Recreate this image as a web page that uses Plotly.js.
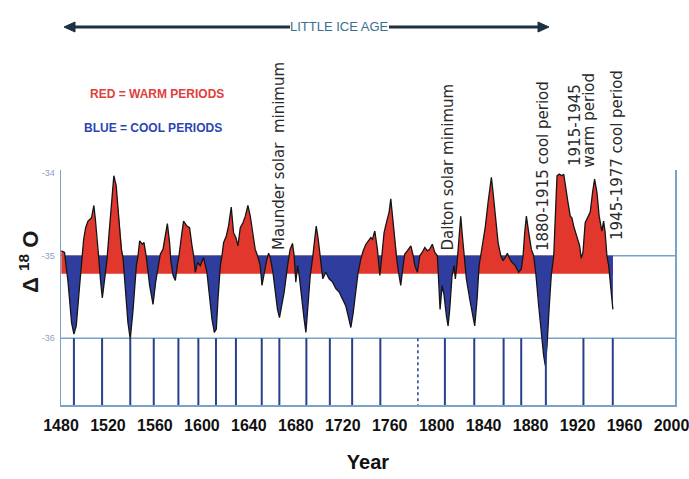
<!DOCTYPE html>
<html><head><meta charset="utf-8">
<script src="https://cdn.plot.ly/plotly-3.0.1.min.js"></script>
<style>html,body{margin:0;padding:0;background:#fff}#chart{width:689px;height:479px}</style>
</head><body><div id="chart"></div>
<script>
// ---- data ----
const years = [
 1480.3,1483,1486,1489,1491,1493,1495.4,1498,1499.3,1501,
 1503,1506,1508,1509.3,1510.7,1512,1513.8,1515.2,1517.2,1519.2,
 1521,1523,1525,1527,1529.4,1531.4,1532.8,1534.8,1537,1539,
 1541.4,1544.2,1545.6,1547,1549.3,1550.7,1552.7,1555.5,1558.4,1560.6,
 1563.1,1564.6,1566.9,1569.1,1570.6,1572.5,1573.5,1575.5,1577.4,1579,
 1580.5,1583,1584.4,1587.3,1589.5,1591.6,1593,1594.4,1596.3,1598.6,
 1601.4,1604.3,1606.6,1608.6,1610.6,1612.3,1613.7,1615.7,1617.1,1618.5,
 1620.8,1622.7,1625,1627,1629,1630.7,1632.7,1635,1637,1639.2,
 1641.2,1643.5,1645.4,1647.4,1649.7,1651.2,1652.5,1654.8,1656.8,1658.2,
 1660.5,1662.5,1664.4,1666.1,1668.2,1670.1,1673,1675.2,1677.2,1678.6,
 1680,1681.5,1682.9,1684.9,1687.1,1688.6,1690,1692.3,1694.2,1695.7,
 1697.4,1699.1,1700.8,1701.9,1703,1705.6,1708.4,1711.3,1714.1,1716.9,
 1719.8,1722.6,1724.6,1726.9,1728.9,1731.2,1733.1,1735.4,1737.4,1739.7,
 1741.6,1743.9,1745.3,1747.3,1749.5,1751.6,1753.3,1755.2,1757.5,1759.5,
 1760.9,1762.3,1764.3,1766,1767.5,1769.4,1771.4,1772.8,1775,1778,
 1780,1781.4,1783.6,1785.6,1787.6,1789.9,1792.1,1794.1,1796.3,1798.4,
 1800.6,1801.8,1802.9,1804.6,1806.3,1808.3,1809.7,1811.1,1813.1,1814.8,
 1815.9,1817.4,1819.1,1820.5,1821.9,1823.3,1825.3,1828.2,1831,1832.4,
 1834.4,1836.1,1837.5,1839.5,1841.5,1843.8,1845.4,1846.6,1848,1850,
 1852.3,1854.6,1856.5,1858.5,1860.2,1862.2,1864.2,1867,1869.9,1872.1,
 1873.6,1875,1876.4,1878.4,1880.6,1882.6,1884.6,1886.9,1889.1,1891.1,
 1892.5,1894,1895.9,1897.6,1899.7,1901,1902.5,1904.4,1906.7,1908.2,
 1909.5,1911.8,1913.8,1915.2,1916.7,1918.6,1920.3,1921.8,1923.1,1924.6,
 1926.5,1928.8,1930.8,1932.8,1934.5,1936.5,1938.4,1940.7,1942.2,1943.5,
 1945,1946.5,1947.8,1949.3,1950.1
];
const d18O = [
 -34.94,-34.96,-35.32,-35.81,-35.95,-35.85,-35.44,-35.00,-34.80,-34.66,
 -34.58,-34.54,-34.39,-34.56,-34.84,-35.00,-35.32,-35.51,-35.28,-35.04,
 -34.72,-34.35,-34.03,-34.15,-34.52,-34.92,-35.02,-35.44,-35.81,-36.01,
 -35.65,-35.12,-35.00,-34.82,-34.86,-34.84,-35.02,-35.36,-35.59,-35.32,
 -35.08,-34.98,-34.92,-34.72,-34.61,-34.84,-35.06,-35.24,-35.30,-35.12,
 -35.00,-34.72,-34.58,-34.64,-34.66,-34.88,-35.00,-35.20,-35.08,-35.12,
 -35.02,-35.20,-35.53,-35.77,-35.93,-35.89,-35.53,-35.12,-35.00,-34.84,
 -34.76,-34.64,-34.41,-34.72,-34.78,-34.88,-34.66,-34.60,-34.52,-34.39,
 -34.52,-34.76,-34.92,-35.00,-35.12,-35.36,-35.24,-35.08,-34.97,-35.02,
 -35.20,-35.44,-35.65,-35.75,-35.61,-35.44,-35.12,-34.92,-34.85,-35.00,
 -35.32,-35.12,-35.24,-35.53,-35.77,-35.93,-35.69,-35.24,-35.04,-34.84,
 -34.64,-34.80,-35.04,-35.20,-35.28,-35.20,-35.28,-35.32,-35.40,-35.44,
 -35.53,-35.61,-35.73,-35.87,-35.69,-35.40,-35.20,-35.04,-34.94,-34.86,
 -34.82,-34.78,-34.80,-34.70,-34.92,-35.24,-35.00,-34.72,-34.58,-34.47,
 -34.31,-34.52,-34.80,-35.04,-35.20,-35.36,-35.12,-34.98,-34.94,-34.88,
 -35.00,-35.12,-35.20,-35.00,-34.96,-34.90,-34.94,-34.92,-34.86,-34.96,
 -35.00,-35.28,-35.65,-35.36,-35.48,-35.73,-35.85,-35.65,-35.24,-35.12,
 -35.28,-35.08,-34.80,-34.52,-34.76,-35.00,-35.28,-35.53,-35.73,-35.85,
 -35.53,-35.12,-35.00,-34.84,-34.64,-34.35,-34.19,-34.05,-34.23,-34.56,
 -34.84,-35.00,-35.06,-35.02,-34.97,-35.04,-35.08,-35.12,-35.20,-35.16,
 -35.00,-34.72,-34.52,-34.72,-34.92,-35.00,-35.24,-35.61,-35.97,-36.21,
 -36.33,-36.09,-35.61,-35.24,-35.00,-34.52,-34.03,-34.01,-34.03,-34.01,
 -34.15,-34.35,-34.52,-34.54,-34.64,-34.72,-34.82,-34.88,-35.03,-34.96,
 -34.60,-34.52,-34.47,-34.23,-34.07,-34.23,-34.52,-34.70,-34.58,-34.72,
 -35.00,-35.12,-35.32,-35.57,-35.65
];
const baselineValue = -35;
const warmBandBottom = -35.218;
const eventYears = [1491,1515,1539,1559,1580,1597,1612,1629,1651,1666,1689,1709,1728,1752,1807,1832,1857,1872,1893,1925,1950];
const dashedEventYears = [1784];
const xTickVals = [1480,1520,1560,1600,1640,1680,1720,1760,1800,1840,1880,1920,1960,2000];
const yTickVals = [-36,-35,-34];
const yTickText = ['-36','-35','-34'];

// ---- styles / geometry ----
const RED = '#e1372d', BLUE = '#2f3e9e', AXIS = '#78a2c8', EVENT = '#26408c', ARROW = '#1f3040';
const SANS = "'Liberation Sans',Arial,sans-serif";
const ROT = "'DejaVu Sans','Liberation Sans',sans-serif";
const X0 = 1480, X1 = 2003, YBOT = -36.81, YTOP = -33.96;
const ML = 61, MR = 14, MT = 170, MB = 74, W = 689, H = 479;
const PW = W - ML - MR, PH = H - MT - MB;
const px = X => (X - ML) / PW;          // page pixel -> paper x
const py = Y => (H - MB - Y) / PH;      // page pixel -> paper y

// insert baseline crossings so the warm / cool fills split cleanly
const xs = [], vs = [];
for (let i = 0; i < years.length; i++) {
  if (i > 0) {
    const a = d18O[i-1] - baselineValue, b = d18O[i] - baselineValue;
    if (a * b < 0) {
      const t = a / (a - b);
      xs.push(years[i-1] + t * (years[i] - years[i-1]));
      vs.push(baselineValue);
    }
  }
  xs.push(years[i]); vs.push(d18O[i]);
}
const noLine = {width: 0};
const traces = [
  {x: xs, y: xs.map(() => warmBandBottom), mode: 'lines', line: noLine, hoverinfo: 'skip'},
  {x: xs, y: vs.map(v => Math.max(v, baselineValue)), mode: 'lines', line: noLine, fill: 'tonexty', fillcolor: RED, hoverinfo: 'skip'},
  {x: xs, y: xs.map(() => baselineValue), mode: 'lines', line: noLine, hoverinfo: 'skip'},
  {x: xs, y: vs.map(v => Math.min(v, baselineValue)), mode: 'lines', line: noLine, fill: 'tonexty', fillcolor: BLUE, hoverinfo: 'skip'},
  {x: years, y: d18O, mode: 'lines', line: {color: '#151515', width: 1.3}, name: 'δ18O'}
];

const shapes = [
  {type: 'line', xref: 'paper', x0: 0, x1: 1, yref: 'y', y0: -35, y1: -35, line: {color: AXIS, width: 1.5}, layer: 'below'},
  {type: 'line', xref: 'paper', x0: 0, x1: 1, yref: 'y', y0: -36, y1: -36, line: {color: AXIS, width: 1.5}, layer: 'below'},
  // "Little Ice Age" double arrow
  {type: 'line', xref: 'paper', yref: 'paper', x0: px(72), x1: px(290), y0: py(27), y1: py(27), line: {color: ARROW, width: 3}},
  {type: 'line', xref: 'paper', yref: 'paper', x0: px(389), x1: px(541), y0: py(27), y1: py(27), line: {color: ARROW, width: 3}},
  {type: 'path', xref: 'paper', yref: 'paper', fillcolor: ARROW, line: {color: ARROW, width: 1},
   path: `M ${px(64)} ${py(27)} L ${px(75)} ${py(22)} L ${px(75)} ${py(32)} Z`},
  {type: 'path', xref: 'paper', yref: 'paper', fillcolor: ARROW, line: {color: ARROW, width: 1},
   path: `M ${px(549)} ${py(27)} L ${px(538)} ${py(22)} L ${px(538)} ${py(32)} Z`}
];
eventYears.forEach(yr => shapes.push({type: 'line', xref: 'x', x0: yr, x1: yr, yref: 'y', y0: -36, y1: YBOT, line: {color: EVENT, width: 2}}));
dashedEventYears.forEach(yr => shapes.push({type: 'line', xref: 'x', x0: yr, x1: yr, yref: 'y', y0: -36, y1: YBOT, line: {color: EVENT, width: 1.5, dash: 'dot'}}));

const vText = (text, yr, Ybottom) => ({text, xref: 'x', x: yr, yref: 'paper', y: py(Ybottom), xanchor: 'center', yanchor: 'bottom',
  textangle: -90, showarrow: false, font: {family: ROT, size: 15, color: '#2a2a2a'}});
const hText = (text, X, Y, font, extra) => Object.assign({text, xref: 'paper', x: px(X), yref: 'paper', y: py(Y),
  xanchor: 'center', yanchor: 'middle', showarrow: false, font}, extra || {});

const annotations = [
  vText('Maunder solar &nbsp;minimum', 1665.7, 252),
  vText('Dalton solar minimum', 1808.8, 253),
  vText('1880-1915 cool period', 1890.6, 253),
  vText('1915-1945', 1917.8, 168),
  vText('warm period', 1928.9, 170),
  vText('1945-1977 cool period', 1953.6, 242),
  hText('LITTLE ICE AGE', 339, 27, {family: SANS, size: 13, color: '#3a6e8e'}),
  hText('RED = WARM PERIODS', 157, 94, {family: SANS, size: 12, color: '#e0403c', weight: 'bold'}),
  hText('BLUE = COOL PERIODS', 153, 128, {family: SANS, size: 12, color: '#2b45b4', weight: 'bold'}),
  hText('Δ <sup>18</sup> O', 29, 262, {family: SANS, size: 22, color: '#1a1a1a', weight: 'bold'}, {textangle: -90})
];

const layout = {
  width: W, height: H,
  margin: {l: ML, r: MR, t: MT, b: MB},
  paper_bgcolor: '#ffffff', plot_bgcolor: '#ffffff',
  showlegend: false,
  xaxis: {
    range: [X0, X1], tickmode: 'array', tickvals: xTickVals, ticks: '', showgrid: false, zeroline: false,
    showline: true, linecolor: AXIS, linewidth: 1.5, ticklabelstandoff: 5, tickangle: 0, ticklabeloverflow: 'allow',
    tickfont: {family: SANS, size: 16, color: '#111', weight: 'bold'},
    title: {text: 'Year', font: {family: SANS, size: 20, color: '#111', weight: 'bold'}, standoff: 22}
  },
  yaxis: {
    range: [YBOT, YTOP], tickmode: 'array', tickvals: yTickVals, ticktext: yTickText, ticks: '', showgrid: false,
    zeroline: false, showline: true, mirror: true, linecolor: AXIS, linewidth: 1.5, ticklabelstandoff: 3,
    tickfont: {family: SANS, size: 9, color: '#8aa2c2'}
  },
  shapes, annotations
};
Plotly.newPlot('chart', traces, layout, {displayModeBar: false, staticPlot: true});
</script>
</body></html>
